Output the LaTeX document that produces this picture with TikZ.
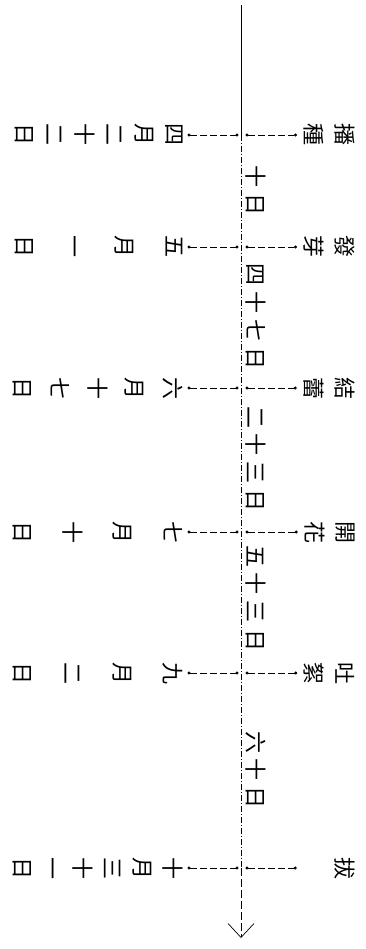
\documentclass[tikz,border=0pt]{standalone}
\usepackage{fontspec}
\usepackage{tikz}
\usetikzlibrary{arrows.meta}
\newfontfamily\cjk{Noto Sans CJK TC}

\begin{document}
\begin{tikzpicture}[x=1pt, y=-1pt,
    vlabel/.style={rotate=-90, inner sep=0pt, align=center,
      font=\cjk\fontsize{22}{22}\selectfont},
    leader/.style={line width=0.7pt, dash pattern=on 7pt off 3pt,
      {Circle[length=3pt]}-{Circle[length=3pt]}}]
  \useasboundingbox (0,0) rectangle (365,949);
  % Points on the time axis
  \coordinate (top) at (241,5);
  \coordinate (t1) at (241,135);
  \coordinate (t2) at (241,247);
  \coordinate (t3) at (241,388);
  \coordinate (t4) at (241,532);
  \coordinate (t5) at (241,673);
  \coordinate (t6) at (241,868);
  \coordinate (tip) at (241,938);
  % Time axis
  \draw[line width=0.7pt] (top) -- (t1);
  \draw[line width=0.7pt, dash pattern=on 6pt off 2pt on 1pt off 2pt] (t1) -- (t6);
  \draw[line width=0.7pt, dash pattern=on 8pt off 3pt,
    -{Straight Barb[length=14pt, width=26pt]}] (t6) -- (tip);
  % Stages
  \node[vlabel, anchor=north] (s1) at (355,135) {播\\[9pt]種};
  \node[vlabel, anchor=north] (s2) at (355,247) {發\\[9pt]芽};
  \node[vlabel, anchor=north] (s3) at (355,388) {結\\[9pt]蕾};
  \node[vlabel, anchor=north] (s4) at (355,532) {開\\[9pt]花};
  \node[vlabel, anchor=north] (s5) at (355,673) {吐\\[9pt]絮};
  \node[vlabel, anchor=north] (s6) at (355,868) {拔};
  % Dates
  \node[vlabel, anchor=north] (d1) at (183,135)
    {四\\[8pt]月\\[8pt]二\\[8pt]十\\[8pt]二\\[8pt]日};
  \node[vlabel, anchor=north] (d2) at (183,247)
    {五\\[28pt]月\\[28pt]一\\[28pt]日};
  \node[vlabel, anchor=north] (d3) at (183,388)
    {六\\[15.5pt]月\\[15.5pt]十\\[15.5pt]七\\[15.5pt]日};
  \node[vlabel, anchor=north] (d4) at (183,532)
    {七\\[28pt]月\\[28pt]十\\[28pt]日};
  \node[vlabel, anchor=north] (d5) at (183,673)
    {九\\[28pt]月\\[28pt]二\\[28pt]日};
  \node[vlabel, anchor=north] (d6) at (183,868)
    {十\\[8pt]月\\[8pt]三\\[8pt]十\\[8pt]一\\[8pt]日};
  % Days between stages
  \node[vlabel] (g1) at (256,191) {十\hspace{6pt}日};
  \node[vlabel] (g2) at (256,317) {四\hspace{6pt}十\hspace{6pt}七\hspace{6pt}日};
  \node[vlabel] (g3) at (256,459) {二\hspace{6pt}十\hspace{6pt}三\hspace{6pt}日};
  \node[vlabel] (g4) at (256,598) {五\hspace{6pt}十\hspace{6pt}三\hspace{6pt}日};
  \node[vlabel] (g5) at (256,770) {六\hspace{6pt}十\hspace{6pt}日};
  % Leaders
  \foreach \i in {1,...,6}
    \draw[leader, shorten <=4.5pt, shorten >=2.5pt] (d\i.north) -- (t\i);
  \foreach \i in {1,...,5}
    \draw[leader, shorten <=4.5pt, shorten >=6.5pt] (t\i) -- (s\i.south);
  \draw[leader, shorten <=4.5pt, shorten >=37.5pt] (t6) -- (s6.south);
\end{tikzpicture}
\end{document}
